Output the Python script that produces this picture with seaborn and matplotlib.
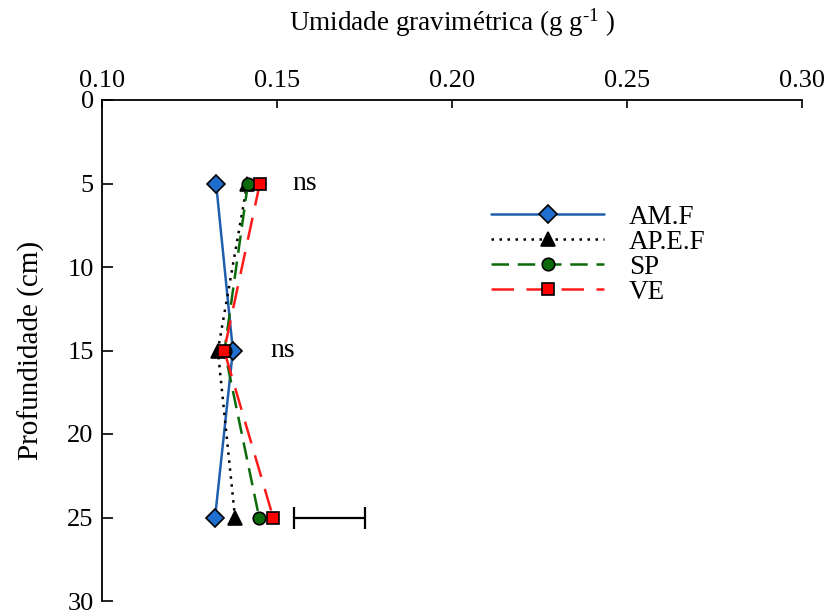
import matplotlib
matplotlib.use("Agg")
import matplotlib.pyplot as plt
import seaborn as sns
import pandas as pd

depth = [5, 15, 25]
am_f = [0.1326, 0.1374, 0.1323]
ap_e_f = [0.1415, 0.1331, 0.1380]
sp = [0.1417, 0.1350, 0.1449]
ve = [0.1451, 0.1349, 0.1489]
series_names = ["AM.F", "AP.E.F", "SP", "VE"]
x_ticks = [0.10, 0.15, 0.20, 0.25, 0.30]
y_ticks = [0, 5, 10, 15, 20, 25, 30]
lsd_x = 0.165
lsd_half = 0.010
lsd_depth = 25
ns_labels = [(0.1543, 5, "ns"), (0.1480, 15, "ns")]

sns.set_style("ticks")
plt.rcParams["font.family"] = ["Liberation Serif", "DejaVu Serif"]
plt.rcParams["mathtext.fontset"] = "custom"
plt.rcParams["mathtext.rm"] = "Liberation Serif"
plt.rcParams["mathtext.it"] = "Liberation Serif:italic"
plt.rcParams["text.color"] = "black"
plt.rcParams["axes.labelcolor"] = "black"
plt.rcParams["xtick.color"] = "black"
plt.rcParams["ytick.color"] = "black"

fig = plt.figure(figsize=(8.28, 6.13), dpi=100)
ax = fig.add_axes([102/828, 1-601/613, 700/828, 501/613])

styles = {
    "AM.F": dict(color="#1f5fae", linestyle="-", marker="D", markersize=9, mfc="#1f6fd0"),
    "AP.E.F": dict(color="black", linestyle=(0, (1, 2.2)), marker="^", markersize=9.5, mfc="black"),
    "SP": dict(color="#0b6b0b", linestyle=(0, (7, 3.5)), marker="o", markersize=9, mfc="#0b6b0b"),
    "VE": dict(color="#ff1a1a", linestyle=(0, (9, 5)), marker="s", markersize=9, mfc="#ff0000"),
}
data = {"AM.F": am_f, "AP.E.F": ap_e_f, "SP": sp, "VE": ve}
for name in series_names:
    st = styles[name]
    df = pd.DataFrame({"x": data[name], "y": depth})
    sns.lineplot(data=df, x="x", y="y", sort=False, estimator=None, ax=ax,
                 color=st["color"], linestyle=st["linestyle"], linewidth=1.8,
                 marker=st["marker"], markersize=st["markersize"],
                 markerfacecolor=st["mfc"], markeredgecolor="black",
                 markeredgewidth=1.2, label=name)

ax.errorbar([lsd_x], [lsd_depth], xerr=[lsd_half], fmt="none", ecolor="black",
            elinewidth=1.6, capsize=8, capthick=1.6)

for xv, yv, t in ns_labels:
    ax.text(xv, yv, t, fontsize=20, ha="left", va="center")

ax.set_xlim(0.10, 0.30)
ax.set_ylim(30, 0)
ax.xaxis.tick_top()
ax.xaxis.set_label_position("top")
ax.set_xticks(x_ticks)
ax.set_xticklabels([f"{v:.2f}" for v in x_ticks])
ax.set_yticks(y_ticks)
ax.set_yticklabels([str(v) for v in y_ticks])
ax.tick_params(axis="x", direction="in", length=6, width=1.2, labelsize=19, pad=6)
ax.tick_params(axis="y", direction="in", length=8, width=1.2, labelsize=19, pad=6)
for s in ["right", "bottom"]:
    ax.spines[s].set_visible(False)
for s in ["left", "top"]:
    ax.spines[s].set_linewidth(1.3)
    ax.spines[s].set_color("black")

ax.set_xlabel(r"Umidade gravimétrica (g g$^{\text{-1}}$ )", fontsize=19.5, labelpad=28)
ax.set_ylabel("Profundidade (cm)", fontsize=21, labelpad=16)

leg = ax.legend(loc="upper left", bbox_to_anchor=(0.536, 0.818), frameon=False,
                fontsize=19.5, handlelength=4.2, handletextpad=0.9,
                labelspacing=0.0, borderpad=0)

fig.savefig("out.png", dpi=100)
